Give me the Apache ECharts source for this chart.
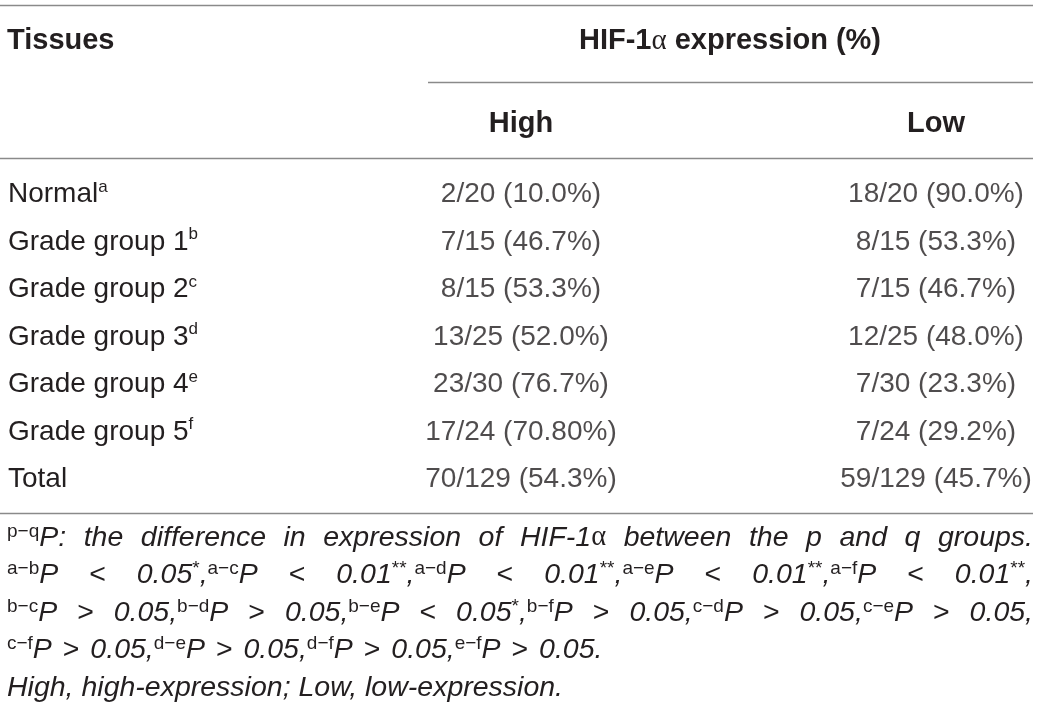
<!DOCTYPE html>
<html><head><meta charset="utf-8">
<script src="https://cdn.jsdelivr.net/npm/echarts@6/dist/echarts.min.js"></script>
<style>html,body{margin:0;padding:0;background:#fff}#c{width:1040px;height:714px}</style>
</head><body><div id="c"></div><script>
// ---- data ----
const tissues = ['Normal','Grade group 1','Grade group 2','Grade group 3','Grade group 4','Grade group 5','Total'];
const tissueMarks = ['a','b','c','d','e','f',''];
const columns = ['High','Low'];
const groupTotals = [20,15,15,25,30,24,129];
const highCounts = [2,7,8,13,23,17,70];
const highPercents = ['10.0','46.7','53.3','52.0','76.7','70.80','54.3'];
const lowCounts = [18,8,7,12,7,7,59];
const lowPercents = ['90.0','53.3','46.7','48.0','23.3','29.2','45.7'];
const headerLeft = 'Tissues';
const headerGroup = '{b|HIF-1}{a|α}{b| expression (%)}';
// footnote lines: words in rich markup; justify flag
const footnoteLines = [
  {justify:true, words:['{s|p−q}{i|P:}','{i|the}','{i|difference}','{i|in}','{i|expression}','{i|of}','{i|HIF-1}{a|α}','{i|between}','{i|the}','{i|p}','{i|and}','{i|q}','{i|groups.}']},
  {justify:true, words:['{s|a−b}{i|P}','{o|<}','{i|0.05}{s|*}{i|,}{s|a−c}{i|P}','{o|<}','{i|0.01}{s|**}{i|,}{s|a−d}{i|P}','{o|<}','{i|0.01}{s|**}{i|,}{s|a−e}{i|P}','{o|<}','{i|0.01}{s|**}{i|,}{s|a−f}{i|P}','{o|<}','{i|0.01}{s|**}{i|,}']},
  {justify:true, words:['{s|b−c}{i|P}','{o|>}','{i|0.05,}{s|b−d}{i|P}','{o|>}','{i|0.05,}{s|b−e}{i|P}','{o|<}','{i|0.05}{s|*}{i|,}{s|b−f}{i|P}','{o|>}','{i|0.05,}{s|c−d}{i|P}','{o|>}','{i|0.05,}{s|c−e}{i|P}','{o|>}','{i|0.05,}']},
  {justify:false, words:['{s|c−f}{i|P}','{o|>}','{i|0.05,}{s|d−e}{i|P}','{o|>}','{i|0.05,}{s|d−f}{i|P}','{o|>}','{i|0.05,}{s|e−f}{i|P}','{o|>}','{i|0.05.}']},
  {justify:false, words:['{i|High,}','{i|high-expression;}','{i|Low,}','{i|low-expression.}']}
];

// ---- styling ----
const FONT = '"Liberation Sans", Arial, sans-serif';
const SERIF = '"Liberation Serif", serif';
const TXT = '#231f20';
const RULE = '#8a8a8a';
const FS = 28;
const HFS = 29;
const SUP = 17;
const FFS = 28.5;
const FSUP = 19;
const OPPAD = 3;

const richCell = {
  n: {fontSize: FS, fontFamily: FONT, color: TXT, lineHeight: 32},
  s: {fontSize: SUP, fontFamily: FONT, color: TXT, lineHeight: 18, verticalAlign: 'top'}
};
const footRich = {
  i: {fontSize: FFS, fontFamily: FONT, fontStyle: 'italic', fill: TXT, color: TXT, lineHeight: 32},
  o: {fontSize: FFS, fontFamily: FONT, fill: TXT, color: TXT, lineHeight: 32, padding: [0, OPPAD, 0, OPPAD]},
  a: {fontSize: FFS, fontFamily: SERIF, fill: TXT, color: TXT, lineHeight: 32},
  s: {fontSize: FSUP, fontFamily: FONT, fill: TXT, color: TXT, lineHeight: 19, verticalAlign: 'top'}
};
const fontStr = {
  i: 'italic normal ' + FFS + 'px ' + FONT,
  o: 'normal normal ' + FFS + 'px ' + FONT,
  a: 'normal normal ' + FFS + 'px ' + SERIF,
  s: 'normal normal ' + FSUP + 'px ' + FONT
};
const mctx = document.createElement('canvas').getContext('2d');
function measureWord(w) {
  const re = /\{(\w+)\|([^}]*)\}/g; let m, sum = 0;
  while ((m = re.exec(w))) {
    mctx.font = fontStr[m[1]];
    sum += mctx.measureText(m[2]).width + (m[1] === 'o' ? 2 * OPPAD : 0);
  }
  return sum;
}
mctx.font = fontStr.i;
const spaceW = mctx.measureText(' ').width;

const textLeft = 7, textRight = 1033;
const footTop = 538, footStep = 37.5;
const footGraphics = [];
footnoteLines.forEach((line, li) => {
  const widths = line.words.map(measureWord);
  const total = widths.reduce((a, b) => a + b, 0);
  const gap = line.justify ? (textRight - textLeft - total) / (line.words.length - 1) : spaceW;
  let x = textLeft;
  line.words.forEach((w, wi) => {
    footGraphics.push({
      type: 'text', x: x, y: footTop + li * footStep, silent: true,
      style: {text: w, rich: footRich, fill: TXT, align: 'left', verticalAlign: 'middle', font: fontStr.i}
    });
    x += widths[wi] + gap;
  });
});

const chart = echarts.init(document.getElementById('c'));
const cellLabel = (counts, pcts) => ({
  show: true, position: 'inside', fontFamily: FONT, fontSize: FS, color: TXT,
  formatter: p => counts[p.dataIndex] + '/' + groupTotals[p.dataIndex] + ' (' + pcts[p.dataIndex] + '%)'
});
chart.setOption({
  animation: false,
  grid: {left: 521, right: 104, top: 170.75, height: 332.5},
  xAxis: {
    type: 'category', data: columns, position: 'top', boundaryGap: false,
    axisLine: {show: false}, axisTick: {show: false}, splitLine: {show: false},
    axisLabel: {interval: 0, margin: 47, verticalAlign: 'middle', fontFamily: FONT, fontSize: HFS, fontWeight: 'bold', color: TXT}
  },
  yAxis: {
    type: 'category', data: tissues, inverse: true,
    axisLine: {show: false}, axisTick: {show: false}, splitLine: {show: false},
    axisLabel: {
      interval: 0, margin: 513, align: 'left', verticalAlign: 'middle', fontFamily: FONT, fontSize: FS, color: TXT,
      formatter: (v, i) => '{n|' + v + '}' + (tissueMarks[i] ? '{s|' + tissueMarks[i] + '}' : ''),
      rich: richCell
    }
  },
  series: [
    {type: 'scatter', name: columns[0], symbolSize: 1, itemStyle: {color: 'rgba(0,0,0,0)'}, silent: true,
     data: tissues.map(t => [columns[0], t]), label: cellLabel(highCounts, highPercents)},
    {type: 'scatter', name: columns[1], symbolSize: 1, itemStyle: {color: 'rgba(0,0,0,0)'}, silent: true,
     data: tissues.map(t => [columns[1], t]), label: cellLabel(lowCounts, lowPercents)}
  ],
  graphic: [
    {type: 'line', silent: true, shape: {x1: 0, y1: 5.5, x2: 1033, y2: 5.5}, style: {stroke: RULE, lineWidth: 1.3}},
    {type: 'line', silent: true, shape: {x1: 428, y1: 82.5, x2: 1033, y2: 82.5}, style: {stroke: RULE, lineWidth: 1.3}},
    {type: 'line', silent: true, shape: {x1: 0, y1: 158.5, x2: 1033, y2: 158.5}, style: {stroke: RULE, lineWidth: 1.3}},
    {type: 'line', silent: true, shape: {x1: 0, y1: 513.5, x2: 1033, y2: 513.5}, style: {stroke: RULE, lineWidth: 1.3}},
    {type: 'text', silent: true, x: 7, y: 41,
     style: {text: headerLeft, font: 'normal bold ' + HFS + 'px ' + FONT, fill: TXT, align: 'left', verticalAlign: 'middle'}},
    {type: 'text', silent: true, x: 730, y: 41,
     style: {text: headerGroup, fill: TXT, align: 'center', verticalAlign: 'middle',
       rich: {b: {fontSize: HFS, fontWeight: 'bold', fontFamily: FONT, fill: TXT, color: TXT},
              a: {fontSize: HFS, fontFamily: SERIF, fill: TXT, color: TXT}}}}
  ].concat(footGraphics)
});
</script></body></html>
